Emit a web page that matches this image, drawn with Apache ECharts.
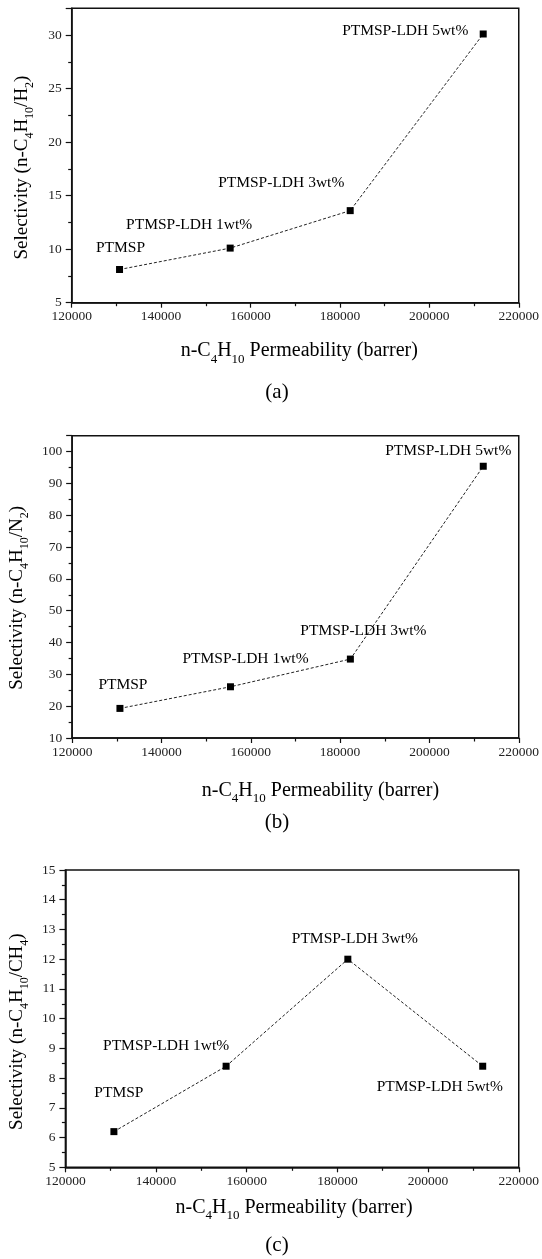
<!DOCTYPE html>
<html>
<head>
<meta charset="utf-8">
<script src="https://cdn.jsdelivr.net/npm/echarts@6/dist/echarts.min.js"></script>
<style>
html, body { margin: 0; padding: 0; background: #fff; }
#chart { width: 542px; height: 1259px; }
</style>
</head>
<body>
<div id="chart"></div>
<script>
// data
const membranes = ['PTMSP', 'PTMSP-LDH 1wt%', 'PTMSP-LDH 3wt%', 'PTMSP-LDH 5wt%']
const permeability = [130700, 155450, 182300, 212050]
const selH2 = [8.1, 10.1, 13.6, 30.1]
const selN2 = [19.3, 26.1, 34.8, 95.4]
const selCH4 = [6.2, 8.4, 12.0, 8.4]
const xRange = [120000, 220000, 20000]
const yRangeH2 = [5, 32.5, 5]
const yRangeN2 = [10, 105, 10]
const yRangeCH4 = [5, 15, 1]
const panelTags = ['(a)', '(b)', '(c)']

const FONT = '"Liberation Serif", "Times New Roman", serif'
const INK = '#111'

const rich = {
  m: { fontSize: 20, fontFamily: FONT, color: '#000' },
  s: { fontSize: 13, fontFamily: FONT, color: '#000', padding: [16, 0, 0, 0] }
}
const yRich = {
  m: { fontSize: 19, fontFamily: FONT, color: '#000' },
  s: { fontSize: 12, fontFamily: FONT, color: '#000', padding: [15, 0, 0, 0] }
}

const panels = [
  { grid: { left: 71.7, width: 449.3, top: 8.3, height: 294.4 }, y: yRangeH2, sel: selH2,
    yName: '{m|Selectivity (n-C}{s|4}{m|H}{s|10}{m|/H}{s|2}{m|)}',
    xGap: 34, yGap: 36, xPad: [0, 0, 0, 8], yPad: [0, 24, 0, 0], tagY: 392,
    offsets: [[1, -22], [-41, -23], [-69, -28], [-78, -3]] },
  { grid: { left: 70, width: 456.8, top: 435.7, height: 302.3 }, y: yRangeN2, sel: selN2,
    yName: '{m|Selectivity (n-C}{s|4}{m|H}{s|10}{m|/N}{s|2}{m|)}',
    xGap: 38, yGap: 34, xPad: [0, 0, 0, 50], yPad: [0, 22, 0, 0], tagY: 822,
    offsets: [[3, -23], [15, -28], [13, -28], [-35, -15]] },
  { grid: { left: 65, width: 459, top: 870, height: 297.3 }, y: yRangeCH4, sel: selCH4,
    yName: '{m|Selectivity (n-C}{s|4}{m|H}{s|10}{m|/CH}{s|4}{m|)}',
    xGap: 26, yGap: 30, xPad: [0, 0, 0, 4], yPad: [0, 26, 0, 0], tagY: 1245,
    offsets: [[5, -39], [-60, -20], [7, -20], [-43, 21]] }
]

const xName = '{m|n-C}{s|4}{m|H}{s|10}{m| Permeability (barrer)}'

const chart = echarts.init(document.getElementById('chart'))
chart.setOption({
  animation: false,
  backgroundColor: '#fff',
  grid: panels.map(p => ({ ...p.grid, show: true, borderColor: INK, borderWidth: 1.5, backgroundColor: 'transparent' })),
  xAxis: panels.map((p, k) => ({
    type: 'value', gridIndex: k,
    min: xRange[0], max: xRange[1], interval: xRange[2],
    name: xName, nameLocation: 'middle', nameGap: p.xGap,
    nameTextStyle: { rich, padding: p.xPad },
    axisLine: { show: true, lineStyle: { color: INK, width: 1.5 } },
    axisTick: { show: true, length: 5, lineStyle: { color: INK, width: 1.2 } },
    minorTick: { show: true, splitNumber: 2, length: 3.5, lineStyle: { color: INK, width: 1.2 } },
    axisLabel: { fontFamily: FONT, fontSize: 13.5, color: '#222', margin: 7, formatter: v => String(v) },
    splitLine: { show: false }
  })),
  yAxis: panels.map((p, k) => ({
    type: 'value', gridIndex: k,
    min: p.y[0], max: p.y[1], interval: p.y[2],
    name: p.yName, nameLocation: 'middle', nameGap: p.yGap,
    nameTextStyle: { rich: yRich, padding: p.yPad },
    axisLine: { show: true, lineStyle: { color: INK, width: 1.5 } },
    axisTick: { show: true, length: 6, lineStyle: { color: INK, width: 1.2 } },
    minorTick: { show: true, splitNumber: 2, length: 3.5, lineStyle: { color: INK, width: 1.2 } },
    axisLabel: { fontFamily: FONT, fontSize: 13.5, color: '#222', margin: 10,
      showMaxLabel: p.y[1] % p.y[2] === 0 ? null : false },
    splitLine: { show: false }
  })),
  graphic: panels.map((p, k) => ({
    type: 'text', x: 277, y: p.tagY,
    style: { text: panelTags[k], font: '21px ' + FONT, fill: '#000', textAlign: 'center', textVerticalAlign: 'middle' }
  })),
  series: panels.map((p, k) => ({
    type: 'line', xAxisIndex: k, yAxisIndex: k,
    data: permeability.map((x, i) => ({ value: [x, p.sel[i]], label: { offset: p.offsets[i] } })),
    symbol: 'rect', symbolSize: 7,
    itemStyle: { color: '#000' },
    lineStyle: { color: '#222', width: 1, type: [3, 2] },
    label: {
      show: true, position: 'inside', color: '#000', fontFamily: FONT, fontSize: 15.5,
      formatter: q => membranes[q.dataIndex]
    },
    silent: true
  }))
})
</script>
</body>
</html>
